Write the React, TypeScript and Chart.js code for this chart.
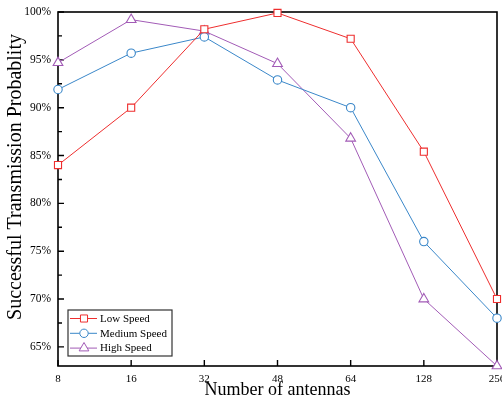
import React, { useEffect, useRef } from "react";
import { Chart, registerables } from "chart.js";

Chart.register(...registerables);

const categories = ["8", "16", "32", "48", "64", "128", "256"];
const lowSpeed = [84.0, 90.0, 98.2, 99.9, 97.2, 85.4, 70.0];
const mediumSpeed = [91.9, 95.7, 97.4, 92.9, 90.0, 76.0, 68.0];
const highSpeed = [94.7, 99.2, 98.0, 94.6, 86.8, 70.0, 63.0];
const yTicks = [65, 70, 75, 80, 85, 90, 95, 100];
const yMinorTicks = [67.5, 72.5, 77.5, 82.5, 87.5, 92.5, 97.5];
const seriesLabels = ["Low Speed", "Medium Speed", "High Speed"];
const xTitle = "Number of antennas";
const yTitle = "Successful Transmission Probablity";

const RED = "#ee2e2e";
const BLUE = "#3a87c9";
const PURPLE = "#a25bb6";
const FONT = "'Liberation Serif', 'Times New Roman', serif";

function drawMarker(ctx: CanvasRenderingContext2D, style: string, x: number, y: number, r: number) {
  ctx.beginPath();
  if (style === "rect") {
    const s = Math.SQRT1_2 * r;
    ctx.rect(x - s, y - s, 2 * s, 2 * s);
  } else if (style === "circle") {
    ctx.arc(x, y, r, 0, Math.PI * 2);
  } else {
    let rad = 0;
    ctx.moveTo(x + Math.sin(rad) * r, y - Math.cos(rad) * r);
    rad += (2 * Math.PI) / 3;
    ctx.lineTo(x + Math.sin(rad) * r, y - Math.cos(rad) * r);
    rad += (2 * Math.PI) / 3;
    ctx.lineTo(x + Math.sin(rad) * r, y - Math.cos(rad) * r);
    ctx.closePath();
  }
  ctx.fill();
  ctx.stroke();
}

const decorPlugin = {
  id: "decor",
  beforeDatasetsDraw(chart: any) {
    const { ctx, chartArea } = chart;
    const { left, right, top, bottom } = chartArea;
    const xs = chart.scales.x;
    const ys = chart.scales.y;
    ctx.save();
    ctx.strokeStyle = "#000";
    ctx.lineWidth = 1.6;
    ctx.strokeRect(left, top, right - left, bottom - top);
    ctx.lineWidth = 1.4;
    ctx.beginPath();
    yTicks.forEach((v) => {
      const y = ys.getPixelForValue(v);
      ctx.moveTo(left, y);
      ctx.lineTo(left + 6, y);
    });
    yMinorTicks.forEach((v) => {
      const y = ys.getPixelForValue(v);
      ctx.moveTo(left, y);
      ctx.lineTo(left + 4, y);
    });
    categories.forEach((_, i) => {
      const x = xs.getPixelForValue(i);
      ctx.moveTo(x, bottom);
      ctx.lineTo(x, bottom - 6);
    });
    ctx.stroke();
    // y title
    ctx.fillStyle = "#000";
    ctx.font = `20px ${FONT}`;
    ctx.textAlign = "center";
    ctx.textBaseline = "middle";
    ctx.translate(16, (top + bottom) / 2 - 12);
    ctx.rotate(-Math.PI / 2);
    ctx.fillText(yTitle, 0, 0);
    ctx.restore();
  },
  afterDatasetsDraw(chart: any) {
    const { ctx, chartArea } = chart;
    const { left, bottom } = chartArea;
    const w = 104;
    const h = 46;
    const x0 = left + 10;
    const y0 = bottom - 10 - h;
    ctx.save();
    ctx.fillStyle = "#fff";
    ctx.fillRect(x0, y0, w, h);
    ctx.strokeStyle = "#333";
    ctx.lineWidth = 1.2;
    ctx.strokeRect(x0, y0, w, h);
    chart.data.datasets.forEach((ds: any, i: number) => {
      const y = y0 + 8.5 + i * 14.8;
      ctx.strokeStyle = ds.borderColor;
      ctx.lineWidth = 1;
      ctx.beginPath();
      ctx.moveTo(x0 + 2, y);
      ctx.lineTo(x0 + 29, y);
      ctx.stroke();
      ctx.fillStyle = "#fff";
      drawMarker(ctx, ds.pointStyle, x0 + 16, y, ds.pointRadius);
      ctx.fillStyle = "#000";
      ctx.font = `11px ${FONT}`;
      ctx.textAlign = "left";
      ctx.textBaseline = "middle";
      ctx.fillText(ds.label, x0 + 32, y + 0.5);
    });
    ctx.restore();
  },
};

export default function App() {
  const ref = useRef<HTMLCanvasElement>(null);
  useEffect(() => {
    if (!ref.current) return;
    const mk = (label: string, data: number[], color: string, style: string, r: number) => ({
      label,
      data,
      borderColor: color,
      backgroundColor: "#fff",
      pointBackgroundColor: "#fff",
      pointBorderColor: color,
      pointBorderWidth: 1.1,
      borderWidth: 1,
      pointStyle: style,
      pointRadius: r,
      pointHoverRadius: r,
      tension: 0,
      clip: false as any,
    });
    const chart = new Chart(ref.current, {
      type: "line",
      data: {
        labels: categories,
        datasets: [
          mk(seriesLabels[0], lowSpeed, RED, "rect", 5),
          mk(seriesLabels[1], mediumSpeed, BLUE, "circle", 4.2),
          mk(seriesLabels[2], highSpeed, PURPLE, "triangle", 5.6),
        ],
      },
      options: {
        animation: false,
        responsive: false,
        devicePixelRatio: 1,
        events: [],
        layout: { padding: { top: 12, right: 43, bottom: 0, left: 0 } },
        plugins: { legend: { display: false }, tooltip: { enabled: false } },
        scales: {
          x: {
            type: "category",
            offset: false,
            grid: { display: false, drawTicks: false },
            border: { display: false },
            ticks: {
              autoSkip: false,
              maxRotation: 0,
              padding: 7,
              color: "#000",
              font: { family: FONT, size: 11 },
            },
            title: {
              display: true,
              text: xTitle,
              color: "#000",
              font: { family: FONT, size: 18, lineHeight: 1.2 },
              padding: 0,
            },
            afterFit: (s: any) => {
              s.height = 35;
              s.paddingLeft = 0;
              s.paddingRight = 0;
            },
          },
          y: {
            type: "linear",
            min: 63,
            max: 100,
            grid: { display: false, drawTicks: false },
            border: { display: false },
            afterBuildTicks: (s: any) => {
              s.ticks = yTicks.map((v) => ({ value: v }));
            },
            ticks: {
              padding: 7,
              color: "#000",
              font: { family: FONT, size: 11.5 },
              callback: (v: any) => `${v}%`,
            },
            afterFit: (s: any) => {
              s.width = 58;
              s.paddingTop = 0;
              s.paddingBottom = 0;
            },
          },
        },
      },
      plugins: [decorPlugin],
    });
    return () => chart.destroy();
  }, []);
  return (
    <div
      style={{
        position: "absolute",
        left: 0,
        top: 0,
        width: 502,
        height: 401,
        overflow: "hidden",
        background: "#fff",
      }}
    >
      <canvas ref={ref} width={540} height={401} style={{ width: 540, height: 401, display: "block" }} />
    </div>
  );
}
